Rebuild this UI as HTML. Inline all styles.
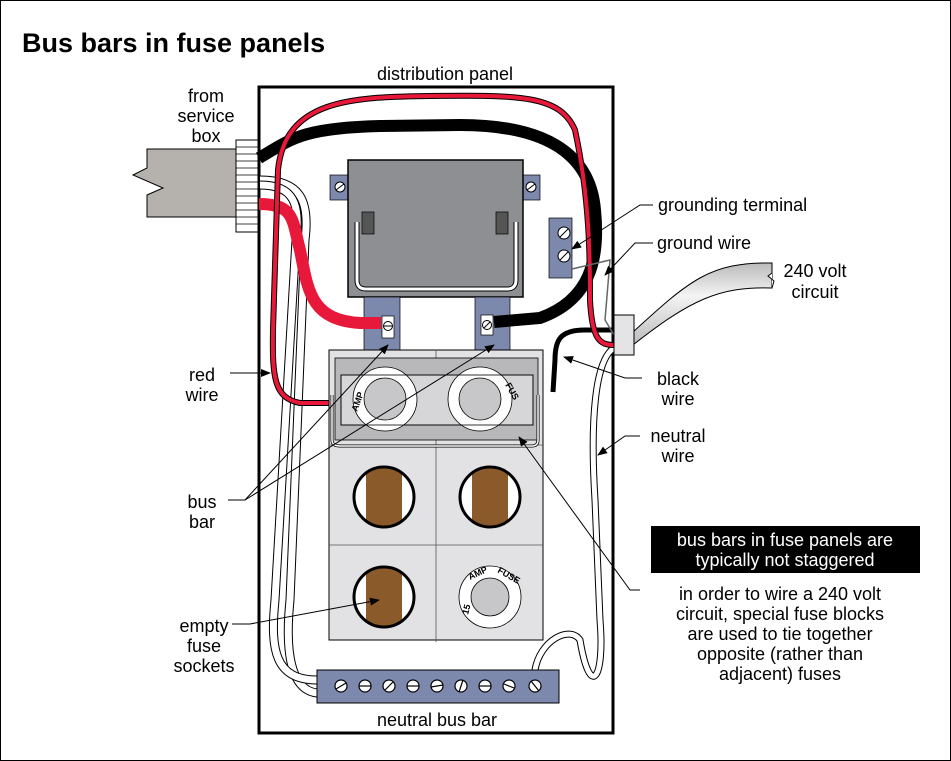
<!DOCTYPE html>
<html><head><meta charset="utf-8"><style>
html,body{margin:0;padding:0;background:#fff}
svg{display:block}
text{font-family:"Liberation Sans",Arial,sans-serif;fill:#000}
</style></head><body>
<svg width="951" height="761" viewBox="0 0 951 761" xmlns="http://www.w3.org/2000/svg">
<defs>
<marker id="a" markerWidth="10" markerHeight="8" refX="9" refY="4" orient="auto" markerUnits="userSpaceOnUse"><path d="M0,0 L10,4 L0,8 Z" fill="#000"/></marker>
<clipPath id="c1"><circle cx="384" cy="497" r="29"/></clipPath>
<clipPath id="c2"><circle cx="490" cy="497" r="29"/></clipPath>
<clipPath id="c3"><circle cx="384" cy="597" r="29"/></clipPath>
<linearGradient id="g" x1="0" y1="0" x2="0" y2="1"><stop offset="0" stop-color="#bbb"/><stop offset="0.4" stop-color="#f4f4f4"/><stop offset="1" stop-color="#bbb"/></linearGradient>
</defs>
<rect x="0.5" y="0.5" width="950" height="760" fill="#fff" stroke="#000" stroke-width="1"/>
<text x="22" y="52" font-size="27" font-weight="bold">Bus bars in fuse panels</text>
<text x="445" y="80" font-size="18" text-anchor="middle">distribution panel</text>

<rect x="259" y="87" width="354" height="646" fill="#fff" stroke="#000" stroke-width="3"/>

<path d="M147,149 L236,149 L236,217 L147,217 L147,195 L163,188 L133,175 L147,168 Z" fill="#b5b2ad" stroke="#000" stroke-width="1"/>
<rect x="236" y="140" width="22" height="92" fill="#fff" stroke="#000" stroke-width="1"/>
<g stroke="#000" stroke-width="0.7">
<line x1="236" y1="147" x2="258" y2="147"/><line x1="236" y1="154" x2="258" y2="154"/><line x1="236" y1="161" x2="258" y2="161"/><line x1="236" y1="168" x2="258" y2="168"/><line x1="236" y1="175" x2="258" y2="175"/><line x1="236" y1="182" x2="258" y2="182"/><line x1="236" y1="189" x2="258" y2="189"/><line x1="236" y1="196" x2="258" y2="196"/><line x1="236" y1="203" x2="258" y2="203"/><line x1="236" y1="210" x2="258" y2="210"/><line x1="236" y1="217" x2="258" y2="217"/><line x1="236" y1="224" x2="258" y2="224"/>
</g>

<path d="M260,180 C300,180 310,200 305,240 L290,600 C285,650 290,690 317,693" fill="none" stroke="#000" stroke-width="9"/>
<path d="M260,180 C300,180 310,200 305,240 L290,600 C285,650 290,690 317,693" fill="none" stroke="#fff" stroke-width="7"/>
<path d="M260,185 C295,185 300,205 296,240 L275,600 C270,650 275,680 317,680" fill="none" stroke="#000" stroke-width="9"/>
<path d="M260,185 C295,185 300,205 296,240 L275,600 C270,650 275,680 317,680" fill="none" stroke="#fff" stroke-width="7"/>
<path d="M614,348 C595,360 590,420 595,500 L600,620 C605,680 590,700 580,640 C570,625 540,640 535,670" fill="none" stroke="#000" stroke-width="7"/>
<path d="M614,348 C595,360 590,420 595,500 L600,620 C605,680 590,700 580,640 C570,625 540,640 535,670" fill="none" stroke="#fff" stroke-width="5"/>

<rect x="330" y="175" width="18" height="25" fill="#7c89ad" stroke="#000" stroke-width="0.7"/>
<rect x="523" y="175" width="17" height="25" fill="#7c89ad" stroke="#000" stroke-width="0.7"/>
<circle cx="340" cy="187" r="5" fill="#fff" stroke="#000"/><line x1="336" y1="190" x2="344" y2="184" stroke="#000"/>
<circle cx="531" cy="187" r="5" fill="#fff" stroke="#000"/><line x1="527" y1="190" x2="535" y2="184" stroke="#000"/>
<rect x="348" y="160" width="175" height="137" fill="#8e8f92" stroke="#000" stroke-width="1.5"/>
<path d="M357,222 L357,280 Q357,289 366,289 L507,289 Q516,289 516,280 L516,222" fill="none" stroke="#000" stroke-width="5"/>
<path d="M357,222 L357,280 Q357,289 366,289 L507,289 Q516,289 516,280 L516,222" fill="none" stroke="#fff" stroke-width="3"/>
<rect x="362" y="212" width="12" height="22" fill="#555" stroke="#000" stroke-width="0.7"/>
<rect x="496" y="212" width="12" height="22" fill="#555" stroke="#000" stroke-width="0.7"/>
<rect x="364" y="297" width="36" height="55" fill="#7c89ad" stroke="#000" stroke-width="0.7"/>
<rect x="475" y="297" width="35" height="55" fill="#7c89ad" stroke="#000" stroke-width="0.7"/>

<rect x="549" y="218" width="23" height="60" fill="#7c89ad" stroke="#000" stroke-width="0.7"/>
<circle cx="564" cy="233" r="6" fill="#fff" stroke="#000"/><line x1="560" y1="237" x2="568" y2="229" stroke="#000"/>
<circle cx="564" cy="256" r="6" fill="#fff" stroke="#000"/><line x1="560" y1="260" x2="568" y2="252" stroke="#000"/>

<path d="M259,158 C290,140 300,128 380,126 L460,125 C540,125 590,150 595,210 C600,260 590,300 540,318 L494,322" fill="none" stroke="#000" stroke-width="12"/>
<path d="M614,330 L585,330 C560,330 555,340 555,360 L553,392" fill="none" stroke="#000" stroke-width="5"/>
<path d="M259,204 C295,204 292,220 300,250 C308,290 310,320 360,323 L381,323" fill="none" stroke="#e8183a" stroke-width="12"/>
<path d="M332,403 L300,403 C275,398 272,380 273,330 L278,170 C285,100 350,97 430,96 C520,95 560,95 575,130 C590,200 590,260 590,300 C592,340 600,345 614,345" fill="none" stroke="#000" stroke-width="6"/>
<path d="M332,403 L300,403 C275,398 272,380 273,330 L278,170 C285,100 350,97 430,96 C520,95 560,95 575,130 C590,200 590,260 590,300 C592,340 600,345 614,345" fill="none" stroke="#e8183a" stroke-width="4"/>
<path d="M572,269 L610,260 L605,320 L614,335" fill="none" stroke="#666" stroke-width="1.5"/>

<rect x="382" y="316" width="12" height="22" fill="#fff" stroke="#000" stroke-width="0.7"/>
<circle cx="388" cy="326" r="4.5" fill="#fff" stroke="#000"/><line x1="384" y1="326" x2="392" y2="326" stroke="#000"/>
<rect x="481" y="315" width="12" height="20" fill="#fff" stroke="#000" stroke-width="0.7"/>
<circle cx="487" cy="325" r="4.5" fill="#fff" stroke="#000"/><line x1="484" y1="328" x2="490" y2="322" stroke="#000"/>

<path d="M633,332 C690,280 710,262 772,263 L772,288 C720,286 690,300 633,345 Z" fill="url(#g)" stroke="#000" stroke-width="1"/>
<path d="M772,263 L772,273 L768,276 L774,281 L772,288" fill="#fff" stroke="#000" stroke-width="1"/>
<rect x="614" y="315" width="20" height="40" fill="#e4e4e6" stroke="#000" stroke-width="1"/>

<rect x="329" y="350" width="214" height="290" fill="#e2e2e4" stroke="#000" stroke-width="1"/>
<line x1="436" y1="350" x2="436" y2="642" stroke="#555" stroke-width="0.8"/>
<line x1="329" y1="445" x2="543" y2="445" stroke="#555" stroke-width="0.8"/>
<line x1="329" y1="545" x2="543" y2="545" stroke="#555" stroke-width="0.8"/>
<rect x="335" y="358" width="203" height="82" fill="#b8b8ba" stroke="#000" stroke-width="0.8"/>
<rect x="341" y="375" width="192" height="50" fill="#d6d6d8" stroke="#000" stroke-width="0.8"/>
<path d="M332,395 L332,440 Q332,446 340,446 L532,446 Q538,446 538,440 L538,395" fill="none" stroke="#000" stroke-width="3"/>
<path d="M332,395 L332,440 Q332,446 340,446 L532,446 Q538,446 538,440 L538,395" fill="none" stroke="#fff" stroke-width="1.5"/>
<circle cx="385" cy="399" r="32" fill="#fff" stroke="#000" stroke-width="0.8"/>
<circle cx="385" cy="399" r="21" fill="#c7c7c9" stroke="#000" stroke-width="0.8"/>
<text x="357" y="412" font-size="9" font-weight="bold" transform="rotate(-70 357 412)">AMP</text>
<circle cx="480" cy="399" r="32" fill="#fff" stroke="#000" stroke-width="0.8"/>
<circle cx="480" cy="399" r="21" fill="#c7c7c9" stroke="#000" stroke-width="0.8"/>
<text x="505" y="385" font-size="9" font-weight="bold" transform="rotate(60 505 385)">FUS</text>
<rect x="341" y="375" width="192" height="50" fill="none" stroke="#000" stroke-width="0.8"/>

<circle cx="384" cy="497" r="30" fill="#fff"/>
<circle cx="490" cy="497" r="30" fill="#fff"/>
<circle cx="384" cy="597" r="30" fill="#fff"/>
<rect x="366" y="460" width="36" height="80" fill="#8b5a2b" clip-path="url(#c1)"/>
<rect x="472" y="460" width="36" height="80" fill="#8b5a2b" clip-path="url(#c2)"/>
<rect x="366" y="560" width="36" height="80" fill="#8b5a2b" clip-path="url(#c3)"/>
<g stroke="#000" stroke-width="3" fill="none">
<circle cx="384" cy="497" r="30"/>
<circle cx="490" cy="497" r="30"/>
<circle cx="384" cy="597" r="30"/>
</g>
<circle cx="490" cy="597" r="31" fill="#fff" stroke="#000" stroke-width="0.8"/>
<circle cx="490" cy="597" r="19" fill="#c7c7c9" stroke="#000" stroke-width="0.8"/>
<text x="468" y="615" font-size="9" font-weight="bold" transform="rotate(-75 468 615)">15</text>
<text x="470" y="580" font-size="9" font-weight="bold" transform="rotate(-25 470 580)">AMP</text>
<text x="497" y="572" font-size="9" font-weight="bold" transform="rotate(30 497 572)">FUSE</text>

<rect x="317" y="670" width="242" height="33" fill="#7c89ad" stroke="#000" stroke-width="1"/>
<g fill="#fff" stroke="#000" stroke-width="1.2">
<circle cx="341" cy="686" r="6"/><circle cx="365" cy="686" r="6"/><circle cx="389" cy="686" r="6"/><circle cx="413" cy="686" r="6"/><circle cx="437" cy="686" r="6"/><circle cx="461" cy="686" r="6"/><circle cx="485" cy="686" r="6"/><circle cx="509" cy="686" r="6"/><circle cx="535" cy="686" r="6"/>
</g>
<g stroke="#000" stroke-width="1.2">
<line x1="336" y1="689" x2="346" y2="683"/><line x1="359" y1="686" x2="371" y2="686"/><line x1="385" y1="690" x2="393" y2="682"/><line x1="407" y1="686" x2="419" y2="686"/><line x1="431" y1="687" x2="443" y2="685"/><line x1="459" y1="692" x2="463" y2="680"/><line x1="479" y1="686" x2="491" y2="686"/><line x1="504" y1="684" x2="514" y2="688"/><line x1="531" y1="681" x2="539" y2="691"/>
</g>
<text x="437" y="726" font-size="18" text-anchor="middle">neutral bus bar</text>

<g font-size="18" text-anchor="middle">
<text x="206" y="102">from</text><text x="206" y="122">service</text><text x="206" y="142">box</text>
<text x="202" y="381">red</text><text x="202" y="401">wire</text>
<text x="202" y="508">bus</text><text x="202" y="528">bar</text>
<text x="204" y="632">empty</text><text x="204" y="652">fuse</text><text x="204" y="672">sockets</text>
<text x="678" y="385">black</text><text x="678" y="405">wire</text>
<text x="678" y="442">neutral</text><text x="678" y="462">wire</text>
<text x="815" y="277">240 volt</text><text x="815" y="298">circuit</text>
<text x="780" y="600">in order to wire a 240 volt</text>
<text x="780" y="620">circuit, special fuse blocks</text>
<text x="780" y="640">are used to tie together</text>
<text x="780" y="660">opposite (rather than</text>
<text x="780" y="680">adjacent) fuses</text>
</g>
<text x="658" y="211" font-size="18">grounding terminal</text>
<text x="657" y="249" font-size="18">ground wire</text>
<rect x="651" y="526" width="269" height="47" fill="#000"/>
<text x="785" y="546" font-size="18" text-anchor="middle" style="fill:#fff">bus bars in fuse panels are</text>
<text x="785" y="566" font-size="18" text-anchor="middle" style="fill:#fff">typically not staggered</text>

<g stroke="#000" stroke-width="1" fill="none">
<path d="M653,205 L640,205 L572,249" marker-end="url(#a)"/>
<path d="M653,243 L635,243 L605,275" marker-end="url(#a)"/>
<path d="M230,373 L270,373" marker-end="url(#a)"/>
<path d="M642,378 L625,378 L564,357" marker-end="url(#a)"/>
<path d="M640,436 L625,436 L598,455" marker-end="url(#a)"/>
<path d="M228,500 L245,500 L388,345" marker-end="url(#a)"/>
<path d="M245,500 L494,345" marker-end="url(#a)"/>
<path d="M232,624 L250,624 L379,600" marker-end="url(#a)"/>
<path d="M640,590 L630,590 L519,437" marker-end="url(#a)"/>
</g>
</svg>
</body></html>
